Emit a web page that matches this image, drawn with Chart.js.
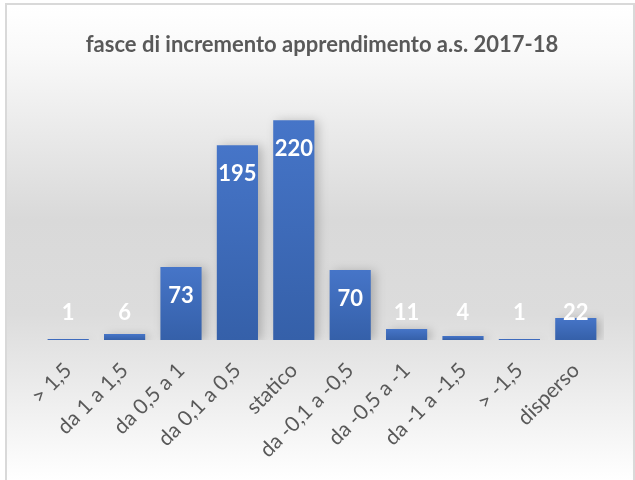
<!DOCTYPE html>
<html>
<head>
<meta charset="utf-8">
<script src="https://cdn.jsdelivr.net/npm/chart.js@4"></script>
<style>
  html, body { margin: 0; padding: 0; background: #fff; }
  #wrap { width: 635px; height: 480px; position: relative; }
</style>
</head>
<body>
<div id="wrap"><canvas id="myChart" width="635" height="480"></canvas></div>
<script>
// categories and values
const labels = ['> 1,5', 'da 1 a 1,5', 'da 0,5 a 1', 'da 0,1 a 0,5', 'statico',
    'da -0,1 a -0,5', 'da -0,5 a -1', 'da -1 a -1,5', '> -1,5', 'disperso'];
const values = [1, 6, 73, 195, 220, 70, 11, 4, 1, 22];

const chartTitle = 'fasce di incremento apprendimento a.s. 2017-18';

// background gradient + frame
const bgPlugin = {
    id: 'bg',
    beforeDraw(chart) {
        const c = chart.ctx;
        const w = chart.width, h = chart.height;
        c.save();
        c.fillStyle = '#ffffff';
        c.fillRect(0, 0, w, h);
        let g = c.createLinearGradient(0, 6, 0, h);
        g.addColorStop(0, '#ffffff');
        g.addColorStop(0.1, '#f9f9f9');
        g.addColorStop(0.45, '#d9d9d9');
        g.addColorStop(0.65, '#dcdcdc');
        g.addColorStop(1, '#ffffff');
        c.fillStyle = g;
        c.fillRect(7, 5, w - 9, h - 5);
        c.strokeStyle = '#d9d9d9';
        c.lineWidth = 2;
        c.strokeRect(6, 4, w - 7, h + 10);
        c.restore();
    }
};

// soft shadow under the bars
const shadowPlugin = {
    id: 'barShadow',
    beforeDatasetsDraw(chart) {
        const c = chart.ctx;
        c.save();
        c.shadowColor = 'rgba(0,0,0,0.22)';
        c.shadowBlur = 10;
        c.shadowOffsetX = 4;
        c.shadowOffsetY = 1;
    },
    afterDatasetsDraw(chart) {
        chart.ctx.restore();
    }
};

// value labels, inside end like excel
const labelPlugin = {
    id: 'valLabels',
    afterDatasetsDraw(chart) {
        const c = chart.ctx;
        const meta = chart.getDatasetMeta(0);
        c.save();
        c.fillStyle = '#ffffff';
        c.font = 'bold 22px Lato';
        c.textAlign = 'center';
        c.textBaseline = 'middle';
        meta.data.forEach((bar, i) => {
            let y = Math.min(bar.y + 29, bar.base - 27);
            c.fillText(String(values[i]), bar.x, y);
        });
        c.restore();
    }
};

function barFill(context) {
    const chart = context.chart;
    if (!chart.chartArea || context.dataIndex === undefined) return '#4472c4';
    const y = chart.scales.y;
    const top = y.getPixelForValue(values[context.dataIndex]);
    const bottom = y.getPixelForValue(0);
    if (bottom - top < 3) return '#3e6bbd';
    const g = chart.ctx.createLinearGradient(0, top, 0, bottom);
    g.addColorStop(0, '#4675c8');
    g.addColorStop(1, '#3560a9');
    return g;
}

let ctx = document.getElementById('myChart');

let myChart = new Chart(ctx, {
    type: 'bar',
    data: {
        labels: labels,
        datasets: [{
            data: values,
            backgroundColor: barFill,
            borderWidth: 0,
            categoryPercentage: 1,
            barPercentage: 0.73
        }]
    },
    options: {
        responsive: false,
        animation: false,
        layout: {padding: {left: 40, right: 31, top: 20, bottom: 0}},
        plugins: {
            legend: {display: false},
            tooltip: {enabled: false},
            title: {
                display: true,
                text: chartTitle,
                color: '#595959',
                font: {family: 'Lato', size: 22, weight: 'bold'},
                padding: {top: 12, bottom: 32}
            }
        },
        scales: {
            x: {
                grid: {display: false},
                border: {display: false},
                ticks: {
                    color: '#595959',
                    font: {family: 'Lato', size: 21},
                    minRotation: 45,
                    maxRotation: 45,
                    autoSkip: false,
                    padding: 10
                },
                afterFit(scale) { scale.height = 140; }
            },
            y: {
                display: false,
                min: 0,
                max: 250
            }
        }
    },
    plugins: [bgPlugin, shadowPlugin, labelPlugin]
});
</script>
</body>
</html>
